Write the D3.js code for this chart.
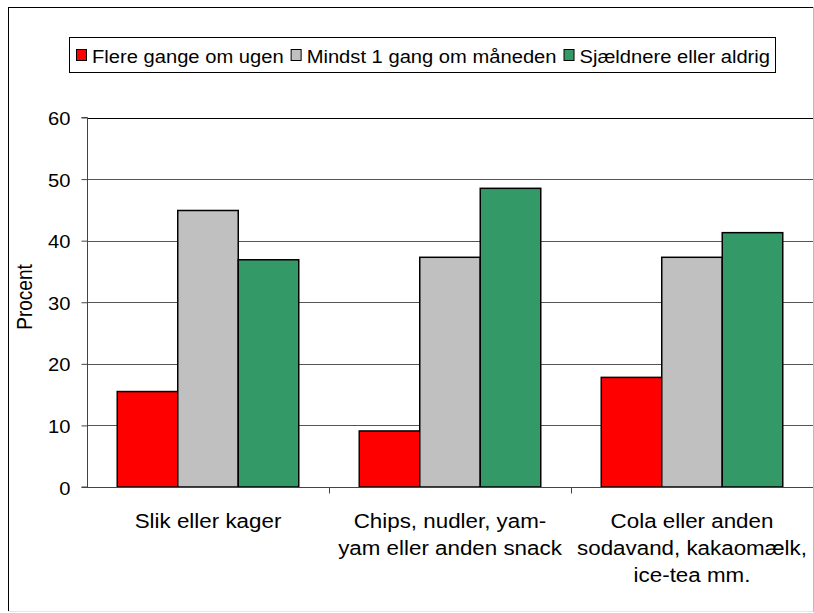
<!DOCTYPE html>
<html><head><meta charset="utf-8">
<script src="https://cdn.jsdelivr.net/npm/d3@7"></script>
<style>html,body{margin:0;padding:0;background:#fff}svg{display:block}text{font-family:"Liberation Sans",Arial,sans-serif;fill:#000}</style>
</head><body>
<svg id="chart" width="814" height="613"></svg>
<script>
const categories = ["Slik eller kager", "Chips, nudler, yam-yam eller anden snack", "Cola eller anden sodavand, kakaomælk, ice-tea mm."];
const categoryLines = [["Slik eller kager"], ["Chips, nudler, yam-", "yam eller anden snack"], ["Cola eller anden", "sodavand, kakaomælk,", "ice-tea mm."]];
const seriesNames = ["Flere gange om ugen", "Mindst 1 gang om måneden", "Sjældnere eller aldrig"];
const flereGange = [15.5, 9.1, 17.8];
const mindst1Gang = [44.9, 37.3, 37.3];
const sjaeldnere = [36.9, 48.5, 41.3];
const yTicks = [0, 10, 20, 30, 40, 50, 60];
const yTitle = "Procent";

const colors = ["#FF0000", "#C0C0C0", "#339966"];
const seriesValues = [flereGange, mindst1Gang, sjaeldnere];

const svg = d3.select("#chart");
const plot = {left: 87, right: 813, top: 117.5, bottom: 487};

// outer frame
svg.append("line").attr("x1", 8).attr("x2", 813).attr("y1", 7.5).attr("y2", 7.5).attr("stroke", "#000");
svg.append("line").attr("x1", 8.5).attr("x2", 8.5).attr("y1", 7).attr("y2", 611).attr("stroke", "#000");
svg.append("line").attr("x1", 8).attr("x2", 813).attr("y1", 611.5).attr("y2", 611.5).attr("stroke", "#e6e6e6");

const x0 = d3.scaleBand().domain(categories).range([plot.left, plot.right]).paddingInner(0).paddingOuter(0);
const x1 = d3.scaleBand().domain(seriesNames).range([0, x0.bandwidth()]).paddingInner(0).paddingOuter(0.5);
const y = d3.scaleLinear().domain([0, 60]).range([plot.bottom, plot.top]);

// gridlines
svg.append("g").selectAll("line").data(yTicks.filter(d => d > 0)).join("line")
  .attr("x1", plot.left).attr("x2", plot.right)
  .attr("y1", d => Math.round(y(d)) + 0.5).attr("y2", d => Math.round(y(d)) + 0.5)
  .attr("stroke", d => d === 60 ? "#000" : "#555").attr("stroke-width", 1);
// right edge
svg.append("line").attr("x1", plot.right + 0.5).attr("x2", plot.right + 0.5).attr("y1", 7).attr("y2", 612).attr("stroke", "#bbb");

// bars
const groups = svg.append("g").selectAll("g").data(categories).join("g")
  .attr("transform", d => `translate(${x0(d)},0)`);
groups.selectAll("rect").data((d, i) => seriesNames.map((s, j) => ({s, j, v: seriesValues[j][i]}))).join("rect")
  .attr("x", d => x1(d.s)).attr("width", x1.bandwidth())
  .attr("y", d => y(d.v)).attr("height", d => y(0) - y(d.v))
  .attr("fill", d => colors[d.j]).attr("stroke", "#000").attr("stroke-width", 1.5);

// y axis
const yAxis = d3.axisLeft(y).tickValues(yTicks).tickSize(6).tickPadding(0).tickFormat(d3.format("d"));
const yg = svg.append("g").attr("transform", `translate(${plot.left + 0.5},0)`).call(yAxis);
yg.select(".domain").attr("stroke", "#444").attr("d", `M-6,${y(60)}H0V${y(0)}H-6`);
yg.selectAll(".tick line").attr("stroke", "#444");
yg.selectAll(".tick text").attr("x", null).attr("dy", null).attr("font-size", 18)
  .attr("text-anchor", "end").attr("dominant-baseline", "central")
  .attr("transform", `translate(-17,1) scale(1.12,1)`);

// x axis
const xAxis = d3.axisBottom(x0).tickSize(0).tickFormat("");
const xg = svg.append("g").attr("transform", `translate(0,${plot.bottom + 0.5})`).call(xAxis);
xg.select(".domain").attr("stroke", "#444").attr("d", `M${plot.left},0H${plot.right}`);
xg.selectAll(".xb").data(categories.slice(1)).join("line").attr("class", "xb")
  .attr("x1", d => Math.round(x0(d)) + 0.5).attr("x2", d => Math.round(x0(d)) + 0.5)
  .attr("y1", 0).attr("y2", 6).attr("stroke", "#444");

// category labels
categories.forEach((c, i) => {
  const cx = x0(c) + x0.bandwidth() / 2;
  categoryLines[i].forEach((ln, k) => {
    svg.append("text").text(ln).attr("font-size", 21).attr("text-anchor", "middle")
      .attr("transform", `translate(${cx},${528 + k * 27}) scale(1.065,1)`);
  });
});

// y title
svg.append("text").text(yTitle).attr("font-size", 19).attr("text-anchor", "middle")
  .attr("transform", `translate(32,297) scale(1.12,1) rotate(-90)`);

// legend
const lg = svg.append("g");
lg.append("rect").attr("x", 69.5).attr("y", 37.5).attr("width", 706).attr("height", 35).attr("fill", "#fff").attr("stroke", "#000");
let lx = 76;
seriesNames.forEach((s, j) => {
  lg.append("rect").attr("x", lx + 0.5).attr("y", 49.5).attr("width", 10).attr("height", 11).attr("fill", colors[j]).attr("stroke", "#000");
  const t = lg.append("text").text(s).attr("font-size", 18.5).attr("dominant-baseline", "central")
    .attr("transform", `translate(${lx + 16},${56}) scale(1.09,1)`);
  const w = t.node().getComputedTextLength() * 1.09;
  lx = lx + 16 + w + 7;
});
</script>
</body></html>
